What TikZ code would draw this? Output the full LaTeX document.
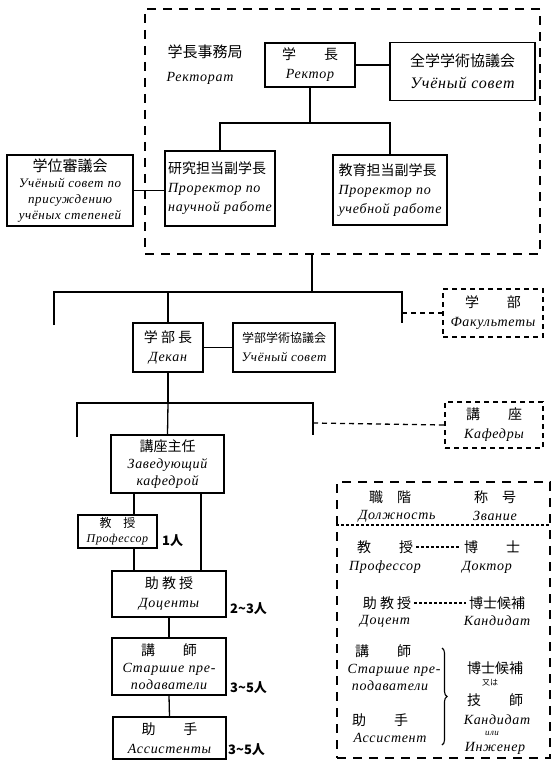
\documentclass[tikz,border=0pt]{standalone}
\usepackage{fontspec}
\setmainfont{Liberation Serif}
\newfontfamily\jpf{Noto Sans CJK JP}
\newfontfamily\ruf{Liberation Serif}[LetterSpace=5]
\usetikzlibrary{decorations.pathreplacing}
\newcommand\J[1]{{\jpf\fontsize{14}{16}\selectfont #1}}
\newcommand\Js[1]{{\jpf\fontsize{8}{9}\selectfont #1}}
\newcommand\R[1]{{\ruf\itshape\fontsize{14}{16}\selectfont #1}}
\newcommand\Rs[1]{{\ruf\itshape\fontsize{9}{10}\selectfont #1}}
\newcommand\N[1]{{\jpf\bfseries\fontsize{13}{15}\selectfont #1}}
\tikzset{
  box/.style={draw, line width=1.3pt, align=center, inner sep=1pt, font=\fontsize{14}{19}\selectfont},
  lbox/.style={box, align=left},
  dbox/.style={box, dash pattern=on 5pt off 4pt},
  office/.style={draw, line width=1.3pt, dash pattern=on 9pt off 7pt},
  ln/.style={line width=1.3pt},
  dln/.style={line width=1.3pt, dash pattern=on 5pt off 4pt},
  sdln/.style={line width=1.1pt, dash pattern=on 3pt off 2pt},
  txt/.style={inner sep=0pt, align=center},
}
\begin{document}
\begin{tikzpicture}[x=1pt,y=-1pt]
\useasboundingbox (0,0) rectangle (554,762);
% rectorate office (dashed frame)
\node[office, minimum width=395pt, minimum height=245pt] (office) at (342.5,131.5) {};
\node[txt] (offj) at (205,52) {{\jpf\fontsize{15}{17}\selectfont 学長事務局}};
\node[txt] (offr) at (200,78) {\R{Ректорат}};
\node[box, minimum width=90pt, minimum height=44pt] (rector) at (310,65) {\J{学\quad\quad 長}\\\R{Ректор}};
\node[box, minimum width=145pt, minimum height=58pt, font=\fontsize{15}{22}\selectfont] (council) at (462.5,71.5) {{\jpf\fontsize{15}{17}\selectfont 全学学術協議会}\\{\ruf\itshape\fontsize{16}{18}\selectfont Учёный совет}};
\node[lbox, minimum width=110pt, minimum height=75pt] (prorR) at (220,188.5) {\J{研究担当副学長}\\\R{Проректор по}\\\R{научной работе}};
\node[lbox, minimum width=114pt, minimum height=70pt] (prorE) at (390,190) {\J{教育担当副学長}\\\R{Проректор по}\\\R{учебной работе}};
\node[box, minimum width=126pt, minimum height=71pt, font=\fontsize{13}{16}\selectfont] (degree) at (70,190.5) {{\jpf\fontsize{15}{17}\selectfont 学位審議会}\\{\ruf\itshape\fontsize{13}{15}\selectfont Учёный совет по}\\{\ruf\itshape\fontsize{13}{15}\selectfont присуждению}\\{\ruf\itshape\fontsize{13}{15}\selectfont учёных степеней}};
\coordinate (j1) at (310,123);
\coordinate (o1) at (312,254);
\coordinate (h1) at (312,292);
\coordinate (hl) at (54,292);
\coordinate (hr) at (402,292);
\draw[ln] (rector.east) -- (council.west |- rector.east);
\draw[ln] (rector.south) -- (j1);
\draw[ln] (prorR.north) -- (prorR.north |- j1) -- (prorE.north |- j1) -- (prorE.north);
\draw[ln] (degree.east) -- (prorR.west |- degree.east);
% faculty level
\draw[ln] (o1) -- (h1);
\draw[ln] ([yshift=-33pt]hl) -- (hl) -- (hr) -- ([yshift=-31pt]hr);
\node[box, minimum width=70pt, minimum height=49pt] (dean) at (168,347.5) {\J{学 部 長}\\\R{Декан}};
\node[box, minimum width=102pt, minimum height=49pt, font=\fontsize{13}{19}\selectfont] (fcouncil) at (284,347.5) {{\jpf\fontsize{12}{14}\selectfont 学部学術協議会}\\{\ruf\itshape\fontsize{13}{15}\selectfont Учёный совет}};
\node[dbox, minimum width=100pt, minimum height=48pt] (facl) at (493,313) {\J{学\qquad 部}\\\R{Факультеты}};
\draw[ln] (dean.north |- h1) -- (dean.north);
\draw[dln] ([yshift=-21pt]hr) -- (facl.west);
\draw[ln] (dean.east) -- (fcouncil.west);
% chair level
\coordinate (h2) at (168,403);
\coordinate (h2l) at (77,403);
\coordinate (h2r) at (313,403);
\draw[ln] (dean.south) -- (h2);
\draw[ln] ([yshift=-34pt]h2l) -- (h2l) -- (h2r) -- ([yshift=-32pt]h2r);
\node[dbox, minimum width=98pt, minimum height=46pt] (kaf) at (494,425) {\J{講\qquad 座}\\\R{Кафедры}};
\draw[dln] ([yshift=-20pt]h2r) -- (kaf.west);
\node[box, minimum width=113pt, minimum height=58pt, font=\fontsize{14}{17}\selectfont] (head) at (167.5,464) {\J{講座主任}\\\R{Заведующий}\\\R{кафедрой}};
\draw[ln] (h2) -- (head.north);
\node[box, minimum width=79pt, minimum height=33pt, font=\fontsize{12}{15}\selectfont] (prof) at (117.5,531.5) {{\jpf\fontsize{12}{14}\selectfont 教\quad 授}\\{\ruf\itshape\fontsize{12}{14}\selectfont Профессор}};
\node[box, minimum width=114pt, minimum height=46pt] (docent) at (169,594) {\J{助 教 授}\\\R{Доценты}};
\node[box, minimum width=114pt, minimum height=57pt, font=\fontsize{14}{17}\selectfont] (senior) at (169,666.5) {\J{講\qquad 師}\\\R{Старшие пре-}\\\R{подаватели}};
\node[box, minimum width=113pt, minimum height=42pt] (assist) at (169.5,738) {\J{助\qquad 手}\\\R{Ассистенты}};
\coordinate (pc) at (134,0);
\coordinate (dc) at (201,0);
\draw[ln] (head.south -| pc) -- (prof.north -| pc);
\draw[ln] (head.south -| dc) -- (docent.north -| dc);
\draw[ln] (prof.south -| pc) -- (docent.north -| pc);
\draw[ln] (docent.south) -- (senior.north);
\draw[ln] (senior.south) -- (assist.north);
\node[txt, anchor=west] (n1) at (162,541) {\N{1人}};
\node[txt, anchor=west] (n2) at (230,609) {\N{2\textasciitilde 3人}};
\node[txt, anchor=west] (n3) at (230,688) {\N{3\textasciitilde 5人}};
\node[txt, anchor=west] (n4) at (228,750) {\N{3\textasciitilde 5人}};
% legend
\node[office, minimum width=213pt, minimum height=276pt] (legend) at (443.5,620) {};
\coordinate (dv) at (0,525);
\draw[sdln] (legend.west |- dv) -- (legend.east |- dv);
\node[txt] (lh1) at (390,497) {\J{職\quad 階}};
\node[txt] (lh2) at (495,497) {\J{称\quad 号}};
\node[txt] (lh3) at (397,516) {\R{Должность}};
\node[txt] (lh4) at (495,516) {\R{Звание}};
\node[txt] (l1a) at (385,547) {\J{教\qquad 授}};
\node[txt] (l1b) at (492,547) {\J{博\qquad 士}};
\draw[sdln] ([xshift=3pt]l1a.east) -- ([xshift=-3pt]l1b.west);
\node[txt] (l1c) at (385,567) {\R{Профессор}};
\node[txt] (l1d) at (487,567) {\R{Доктор}};
\node[txt] (l2a) at (387,603) {\J{助 教 授}};
\node[txt] (l2b) at (497,603) {\J{博士候補}};
\draw[sdln] ([xshift=3pt]l2a.east) -- ([xshift=-3pt]l2b.west);
\node[txt] (l2c) at (385,621) {\R{Доцент}};
\node[txt] (l2d) at (497,621) {\R{Кандидат}};
\node[txt] (l3a) at (383,651) {\J{講\qquad 師}};
\node[txt] (l3b) at (394,670) {\R{Старшие пре-}};
\node[txt] (l3c) at (390,686) {\R{подаватели}};
\node[txt] (l4a) at (380,720) {\J{助\qquad 手}};
\node[txt] (l4b) at (390,738) {\R{Ассистент}};
\coordinate (bt) at (442,648);
\coordinate (bb) at (442,745);
\draw[line width=1.1pt, decorate, decoration={brace, amplitude=5pt}] (bt) -- (bb);
\node[txt] (l5a) at (495,668) {\J{博士候補}};
\node[txt] (l5b) at (490,683) {\Js{又は}};
\node[txt] (l5c) at (495,700) {\J{技\qquad 師}};
\node[txt] (l5d) at (497,720) {\R{Кандидат}};
\node[txt] (l5e) at (492,733) {\Rs{или}};
\node[txt] (l5f) at (495,748) {\R{Инженер}};
\end{tikzpicture}
\end{document}
